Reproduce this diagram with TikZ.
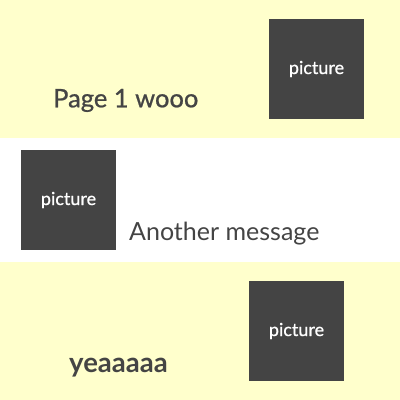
\documentclass[tikz,border=0pt]{standalone}
\usepackage{fontspec}
\setmainfont{Lato}
\newfontfamily\medfont{Lato}[FakeBold=0.8]
\usepackage{tikz}
\definecolor{band}{HTML}{FFFFCC}
\definecolor{ink}{HTML}{444444}

\begin{document}
\begin{tikzpicture}[x=1pt, y=-1pt,
  picbox/.style={fill=ink, text=white, inner sep=0, minimum width=95pt, minimum height=100pt, font=\medfont\fontsize{18}{18}\selectfont},
  msg/.style={text=ink, inner sep=0, anchor=base west}]
\useasboundingbox (0,0) rectangle (400,400);
\fill[band] (0,0) rectangle (400,137.5);
\fill[band] (0,262) rectangle (400,400);
\node[picbox] (pic1) at (316.5,69) {picture};
\node[picbox] (pic2) at (68.5,200) {picture};
\node[picbox] (pic3) at (296.5,331) {picture};
\node[msg, font=\medfont\fontsize{25.5}{25.5}\selectfont] (msg1) at (53,107.3) {Page 1 wooo};
\node[msg, font=\fontsize{25}{25}\selectfont] (msg2) at (129,240) {Another message};
\node[msg, font=\fontsize{27.5}{27.5}\bfseries] (msg3) at (69,372.3) {yeaaaaa};
\end{tikzpicture}
\end{document}
